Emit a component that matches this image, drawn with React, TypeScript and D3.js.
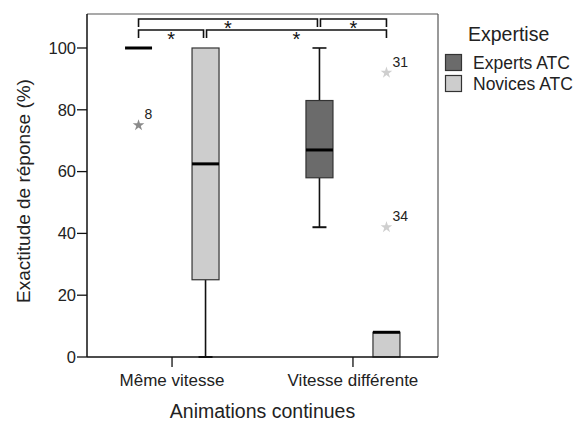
import React from "react";
import * as d3 from "d3";

const categories = ["Même vitesse", "Vitesse différente"];
const series = ["Experts ATC", "Novices ATC"];
const seriesColors = ["#6b6b6b", "#cdcdcd"];
const starColors = ["#8a8a8a", "#cfcfcf"];

// box stats [min, q1, median, q3, max] per series, per category
const expertsStats = [
  [100, 100, 100, 100, 100],
  [42, 58, 67, 83, 100],
];
const novicesStats = [
  [0, 25, 62.5, 100, 100],
  [0, 0, 8, 8, 8],
];
const statsBySeries = [expertsStats, novicesStats];

const outlierCats = [0, 1, 1];
const outlierSeries = [0, 1, 1];
const outlierValues = [75, 92, 42];
const outlierLabels = ["8", "31", "34"];

// significance brackets: [cat, series] -> [cat, series], level (0 = top row)
const bracketFrom = [[0, 0], [1, 0], [0, 0], [0, 1]];
const bracketTo = [[1, 0], [1, 1], [0, 1], [1, 1]];
const bracketLevel = [0, 0, 1, 1];

const yTicks = [0, 20, 40, 60, 80, 100];

const W = 576, H = 421;
const left = 87, right = 438, top = 14, bottom = 357;
const font = "'Liberation Sans', Arial, sans-serif";

export default function App() {
  const y = d3.scaleLinear().domain([0, 111]).range([bottom, top]);
  const x = d3.scalePoint<string>().domain(categories).range([left, right]).padding(0.47);
  const xs = d3.scaleBand<string>().domain(series).range([-67, 67]);
  const bw = 27;
  const cx = (c: number, s: number) => (x(categories[c]) as number) + (xs(series[s]) as number) + xs.bandwidth() / 2;
  const star = d3.symbol().type(d3.symbolStar).size(42)() as string;

  const boxes: React.ReactNode[] = [];
  statsBySeries.forEach((st, s) => {
    st.forEach((v, c) => {
      const [mn, q1, md, q3, mx] = v;
      const xc = cx(c, s);
      const g: React.ReactNode[] = [];
      if (q1 > mn) {
        g.push(<line key="wl" x1={xc} x2={xc} y1={y(q1)} y2={y(mn)} stroke="#111" strokeWidth={1.6} />);
        g.push(<line key="cl" x1={xc - 7} x2={xc + 7} y1={y(mn)} y2={y(mn)} stroke="#111" strokeWidth={2} />);
      }
      if (mx > q3) {
        g.push(<line key="wh" x1={xc} x2={xc} y1={y(q3)} y2={y(mx)} stroke="#111" strokeWidth={1.6} />);
        g.push(<line key="ch" x1={xc - 7} x2={xc + 7} y1={y(mx)} y2={y(mx)} stroke="#111" strokeWidth={1.6} />);
      }
      if (q3 > q1) {
        g.push(<rect key="b" x={xc - bw / 2} y={y(q3)} width={bw} height={y(q1) - y(q3)} fill={seriesColors[s]} stroke="#333" strokeWidth={1.2} />);
      }
      g.push(<line key="m" x1={xc - bw / 2} x2={xc + bw / 2} y1={y(md)} y2={y(md)} stroke="#000" strokeWidth={3} />);
      boxes.push(<g key={`${s}-${c}`}>{g}</g>);
    });
  });

  const levelY = [19, 30];
  return (
    <svg width={W} height={H} style={{ position: "absolute", left: 0, top: 0, background: "#fff" }} fontFamily={font}>
      <rect x={0} y={0} width={W} height={H} fill="#fff" />
      {/* frame */}
      <line x1={left} x2={right} y1={top} y2={top} stroke="#555" strokeWidth={1.2} />
      <line x1={right} x2={right} y1={top} y2={bottom} stroke="#555" strokeWidth={1.2} />
      {boxes}
      {/* axes */}
      <line x1={left} x2={left} y1={top} y2={bottom} stroke="#111" strokeWidth={1.5} />
      <line x1={left} x2={right} y1={bottom} y2={bottom} stroke="#111" strokeWidth={1.5} />
      {yTicks.map((t) => (
        <g key={t}>
          <line x1={left - 10} x2={left} y1={y(t)} y2={y(t)} stroke="#111" strokeWidth={1.3} />
          <text x={left - 11} y={y(t)} dy="0.35em" textAnchor="end" fontSize={16.5} fill="#222">{t}</text>
        </g>
      ))}
      {categories.map((c) => (
        <g key={c}>
          <line x1={x(c)} x2={x(c)} y1={bottom} y2={bottom + 10} stroke="#111" strokeWidth={1.3} />
          <text x={x(c)} y={386} textAnchor="middle" fontSize={17} fill="#222">{c}</text>
        </g>
      ))}
      <text x={(left + right) / 2} y={418} textAnchor="middle" fontSize={19.5} fill="#222">Animations continues</text>
      <text transform={`translate(30,191) rotate(-90)`} textAnchor="middle" fontSize={19} fill="#222">Exactitude de réponse (%)</text>
      {/* outliers */}
      {outlierValues.map((v, i) => {
        const xc = cx(outlierCats[i], outlierSeries[i]);
        return (
          <g key={i}>
            <path d={star} transform={`translate(${xc},${y(v)})`} fill={starColors[outlierSeries[i]]} />
            <text x={xc + 6} y={y(v) - 6} fontSize={14} fill="#222">{outlierLabels[i]}</text>
          </g>
        );
      })}
      {/* brackets */}
      {bracketFrom.map((f, i) => {
        const x1 = cx(f[0], f[1]) + (i === 1 || i === 3 ? 1 : 0);
        const x2 = cx(bracketTo[i][0], bracketTo[i][1]) - (i === 0 || i === 2 ? 2 : 0);
        const ly = levelY[bracketLevel[i]];
        return (
          <g key={i}>
            <path d={`M${x1},${ly + 8}V${ly}H${x2}V${ly + 8}`} fill="none" stroke="#111" strokeWidth={1.6} />
            <text x={(x1 + x2) / 2} y={ly + 16} textAnchor="middle" fontSize={20} fill="#111">*</text>
          </g>
        );
      })}
      {/* legend */}
      <text x={468} y={41} fontSize={19.5} fill="#222">Expertise</text>
      {series.map((s, i) => (
        <g key={s}>
          <rect x={445.5} y={54.5 + i * 21} width={16} height={16} fill={seriesColors[i]} stroke="#333" strokeWidth={1.2} />
          <text x={473} y={62.5 + i * 21} dy="0.35em" fontSize={17.5} fill="#222">{s}</text>
        </g>
      ))}
    </svg>
  );
}
